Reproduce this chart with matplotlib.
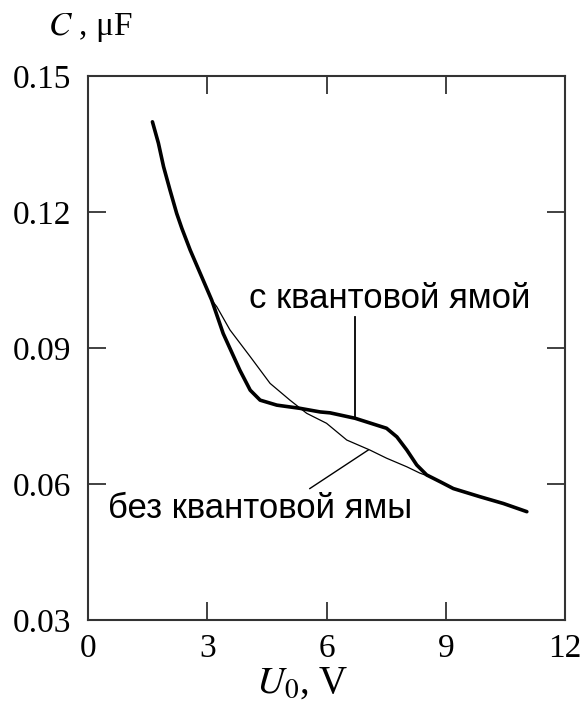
import matplotlib
matplotlib.use("Agg")
import matplotlib.pyplot as plt

plt.rcParams['mathtext.fontset'] = 'stix'
plt.rcParams['font.family'] = ['Liberation Serif', 'DejaVu Serif']

# curve with quantum well (thick)
u_well = [1.62, 1.77, 1.90, 2.06, 2.23, 2.36, 2.57, 2.86, 3.11, 3.40, 3.82, 4.08, 4.33, 4.75,
          5.33, 5.84, 6.09, 6.72, 7.51, 7.77, 8.02, 8.27, 8.52, 8.86, 9.19, 9.86, 10.45, 11.04]
c_well = [0.1399, 0.1352, 0.1300, 0.1249, 0.1197, 0.1164, 0.1116, 0.1057, 0.1006, 0.0932,
          0.0851, 0.0807, 0.0785, 0.0774, 0.0767, 0.0759, 0.0757, 0.0745, 0.0723, 0.0704,
          0.0675, 0.0642, 0.0620, 0.0605, 0.0590, 0.0572, 0.0557, 0.0539]

# curve without quantum well (thin)
u_plain = [3.11, 3.24, 3.57, 4.08, 4.58, 5.08, 5.50, 6.00, 6.51, 7.09, 7.51, 8.02, 8.35, 8.60]
c_plain = [0.1006, 0.0991, 0.0940, 0.0881, 0.0822, 0.0785, 0.0756, 0.0734, 0.0697, 0.0675,
           0.0657, 0.0638, 0.0624, 0.0616]

xticks = [0, 3, 6, 9, 12]
yticks = [0.03, 0.06, 0.09, 0.12, 0.15]

fig = plt.figure(figsize=(5.87, 7.04), dpi=100)
ax = fig.add_axes([0.150, 0.1193, 0.8125, 0.7727])

ax.plot(u_well, c_well, color='black', lw=2.6, solid_capstyle='round', solid_joinstyle='round')
ax.plot(u_plain, c_plain, color='black', lw=0.9)

ax.set_xlim(0, 12)
ax.set_ylim(0.03, 0.15)
ax.set_xticks(xticks)
ax.set_yticks(yticks)
ax.set_xticklabels([str(t) for t in xticks])
ax.set_yticklabels(['%.2f' % t for t in yticks])
ax.tick_params(direction='in', length=13, width=1.3, color='#333333',
               top=True, right=True, labelsize=24, pad=10)
ax.tick_params(axis='y', pad=12)
for s in ax.spines.values():
    s.set_linewidth(1.5)
    s.set_color('#333333')

# annotations
ax.plot([6.72, 6.72], [0.0745, 0.0969], color='black', lw=1.3)
ax.text(7.60, 0.0988, 'с квантовой ямой', family='Liberation Sans', fontsize=25,
        ha='center', va='baseline')
ax.plot([5.58, 7.05], [0.0590, 0.0675], color='black', lw=1.0)
ax.text(4.33, 0.0525, 'без квантовой ямы', family='Liberation Sans', fontsize=25,
        ha='center', va='baseline')

fig.text(48 / 587, 1 - 28 / 704, r'$C$ , μF', fontsize=24, ha='left', va='center')
fig.text(302 / 587, 1 - 683 / 704, r'$U_0$, V', fontsize=28, ha='center', va='center')

fig.savefig('out.png', dpi=100)
